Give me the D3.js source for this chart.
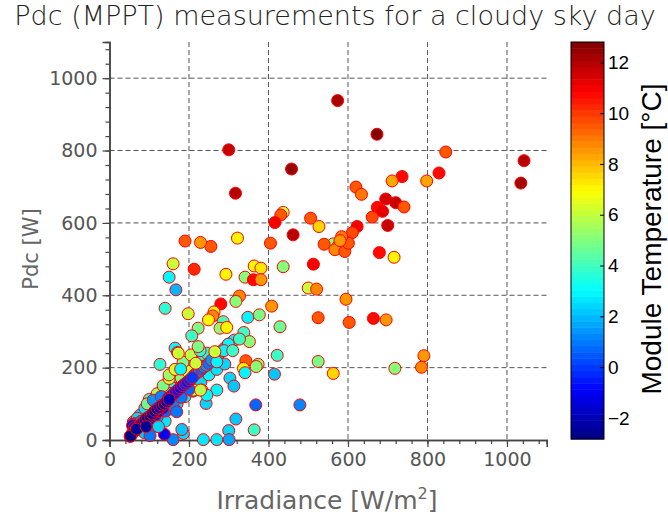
<!DOCTYPE html>
<html>
<head>
<meta charset="utf-8">
<script src="https://cdn.jsdelivr.net/npm/d3@7"></script>
<style>
  body { margin: 0; background: #fff; }
  svg { display: block; }
</style>
</head>
<body>
<div id="chart"></div>
<script>
// Irradiance [W/m2], Pdc [W] and module temperature [C], one entry per measurement
const irradiance = [
  // cyan cloud around the dense band
  256, 262, 268, 275, 282, 290, 298, 306, 314,
  77, 89, 102, 114, 127, 140, 152, 165, 177, 190, 200, 212, 222, 235, 245,
  96, 115, 135, 150, 170, 190, 210, 230, 250, 270, 290, 120, 140, 88,
  60, 70, 65,
  // greens on the upper edge
  100, 120, 135, 150, 180, 196, 211, 232, 95, 150, 165, 185, 205,
  // azure
  214, 220, 226, 232, 238, 244, 250, 60, 70, 80, 100, 120, 140, 160, 180, 200, 110, 130,
  // blue
  148, 154, 160, 166, 172, 178, 184, 190, 196, 202, 208, 58, 62, 110, 116, 122, 134,
  // navy core
  52, 56, 60, 64, 68, 72, 78, 84, 90, 96, 102, 108, 114, 120, 126, 132, 138, 144, 150,
  // scattered
  574, 673, 458, 846, 829, 798, 736, 711, 620, 634, 695, 720, 741, 674, 687, 661, 623, 700,
  506, 527, 437, 431, 416, 1043, 1035, 679, 716, 664, 696, 791, 785, 718, 317, 462, 611,
  588, 563, 540, 576, 567, 592, 601, 584, 580, 405, 322, 255, 229, 190, 213, 513, 437, 364,
  381, 293, 341, 362, 381, 500, 521, 595, 327, 318, 280, 408, 525, 603, 198, 263, 260, 249,
  348, 377, 286, 278, 295, 223, 207, 429, 338, 352, 327, 299, 288, 310, 228, 422, 525, 563,
  343, 374, 369, 337, 341, 415, 303, 313, 368, 479, 318, 364, 300, 243, 236, 270, 301, 160,
  186, 182, 138, 102, 123, 169, 53, 68, 92, 160, 150, 167, 140, 165, 171, 127, 270, 245,
  173, 179, 217, 229, 257, 270, 265, 223, 300
];

const pdc = [
  220, 226, 232, 238, 246, 254, 262, 268, 276,
  69, 88, 101, 116, 130, 147, 161, 175, 185, 194, 205, 215, 226, 236, 240,
  45, 55, 70, 85, 100, 120, 135, 160, 180, 195, 210, 38, 52, 20,
  50, 60, 45,
  112, 128, 150, 170, 172, 190, 138, 138, 100, 180, 195, 215, 235,
  180, 186, 190, 196, 202, 206, 212, 44, 40, 52, 48, 64, 80, 95, 118, 140, 110, 120,
  115, 120, 126, 132, 138, 144, 150, 155, 160, 166, 172, 40, 34, 60, 70, 78, 88,
  10, 16, 22, 26, 30, 34, 42, 48, 56, 62, 66, 72, 80, 86, 90, 96, 100, 106, 112,
  938, 845, 749, 796, 738, 716, 728, 716, 699, 679, 666, 656, 644, 643, 632, 616, 590, 593,
  613, 590, 629, 622, 601, 772, 710, 518, 505, 336, 332, 233, 201, 198, 682, 567, 573,
  553, 542, 541, 537, 526, 521, 544, 562, 551, 544, 558, 535, 546, 550, 472, 486, 479, 481,
  475, 458, 450, 443, 443, 420, 417, 389, 398, 383, 376, 370, 338, 325, 349, 354, 343, 332,
  339, 346, 327, 309, 311, 309, 288, 313, 297, 272, 279, 265, 247, 247, 247, 234, 217, 184,
  219, 209, 203, 198, 186, 182, 171, 149, 97, 97, 58, 28, 26, 101, 1, 1, 1, 1,
  18, 29, 16, 12, 37, 78, 11, 30, 37, 487, 450, 415, 364, 254, 242, 209, 138, 124,
  240, 196, 212, 138, 221, 216, 244, 258, 802
];

const moduleTemp = [
  2.6, 2.8, 3.0, 2.7, 2.9, 3.1, 2.6, 2.8, 3.0,
  2.4, 2.6, 2.8, 3.0, 2.5, 2.7, 3.1, 2.6, 2.9, 2.4, 2.8, 3.0, 2.6, 3.2, 3.6,
  2.2, 2.5, 2.3, 2.6, 2.4, 2.7, 2.5, 2.3, 2.8, 2.6, 2.4, 2.2, 2.6, 2.1,
  2.0, 2.4, 1.8,
  4.2, 5.5, 4.8, 6.0, 5.2, 6.2, 5.8, 6.6, 4.6, 5.4, 6.4, 4.9, 5.8,
  0.8, 1.0, 1.3, 0.6, 1.1, 1.4, 1.0, 0.4, 0.8, 1.2, 1.0, 1.4, 0.6, 1.2, 1.0, 0.8, 1.5, 1.2,
  -1.2, -0.9, -0.6, -1.0, -0.4, -0.8, -0.5, -0.2, -0.6, -0.3, 0.0, -1.4, -1.0, -1.2, -0.9, -1.5, -1.1,
  -2.7, -2.6, -2.5, -2.7, -2.4, -2.6, -2.3, -2.5, -2.2, -2.6, -2.4, -2.1, -2.5, -2.3, -2.0, -2.2, -2.4, -1.9, -2.0,
  12.3, 12.8, 12.4, 9.4, 10.8, 8.2, 10.8, 8.3, 9.6, 9.0, 11.5, 11.7, 9.6, 10.8, 11.3, 9.8, 10.9, 11.6,
  9.6, 7.6, 6.0, 9.5, 10.9, 12.0, 12.2, 10.8, 7.0, 10.8, 8.5, 8.6, 8.8, 5.2, 12.0, 12.0, 9.8,
  8.8, 5.0, 9.5, 7.0, 8.8, 9.6, 9.6, 9.0, 8.5, 9.5, 7.0, 9.6, 8.5, 9.6, 10.2, 10.9, 5.0, 7.0,
  7.3, 7.0, 5.0, 10.8, 8.5, 6.0, 8.7, 8.5, 8.7, 5.0, 10.8, 8.5, 9.6, 9.6, 6.0, 7.0, 8.8, 7.0,
  3.0, 4.8, 4.2, 5.0, 7.0, 4.8, 3.8, 4.5, 3.8, 5.0, 3.8, 3.0, 2.8, 3.8, 3.7, 4.0, 4.8, 7.5,
  9.6, 5.0, 5.0, 7.0, 3.0, 2.2, 2.5, 2.2, 0.6, 1.2, 2.2, 3.9, 2.4, 2.5, 2.6, 2.6, 1.8, 1.3,
  2.5, 2.1, -0.9, 1.0, 2.5, 1.0, -2.6, -2.5, -2.5, 6.0, 3.0, 2.0, 3.6, 3.0, 2.8, 3.7, 2.8, 2.8,
  6.0, 3.0, 6.0, 5.8, 1.5, 2.8, 6.0, 4.8, 11.8
];

const xTicks = [0, 200, 400, 600, 800, 1000];
const yTicks = [0, 200, 400, 600, 800, 1000];
const cbTicks = [-2, 0, 2, 4, 6, 8, 10, 12];

const width = 668, height = 520;
const plot = { left: 109.5, right: 546.7, top: 42, bottom: 440 };
const cbBox = { left: 571, right: 604, top: 42, bottom: 439 };
const tMin = -2.83, tMax = 12.8;

const svg = d3.select('#chart').append('svg')
  .attr('width', width)
  .attr('height', height);

const x = d3.scaleLinear().domain([0, 1100]).range([plot.left, plot.right]);
const y = d3.scaleLinear().domain([0, 1100]).range([plot.bottom, plot.top]);
const c = d3.scaleLinear().domain([tMin, tMax]).range([cbBox.bottom, cbBox.top]);

// MATLAB style jet, 64 levels
function jet(v) {
  const k = Math.max(0, Math.min(63, Math.floor((v - tMin) / (tMax - tMin) * 64)));
  const t = (k + 0.5) / 64;
  const ch = s => Math.round(255 * Math.max(0, Math.min(1, 1.5 - Math.abs(4 * t - s))));
  return `rgb(${ch(3)},${ch(2)},${ch(1)})`;
}

// Grid
const grid = svg.append('g')
  .attr('stroke', '#555')
  .attr('stroke-width', 1)
  .attr('stroke-dasharray', '5,3');
grid.selectAll('.gx')
  .data(xTicks.filter(d => d > 0))
  .join('line')
  .attr('x1', d => x(d)).attr('x2', d => x(d))
  .attr('y1', plot.top).attr('y2', plot.bottom);
grid.selectAll('.gy')
  .data(yTicks.filter(d => d > 0))
  .join('line')
  .attr('y1', d => y(d)).attr('y2', d => y(d))
  .attr('x1', plot.left).attr('x2', plot.right);

// Axes (left and bottom only)
const xAxis = d3.axisBottom(x).tickValues(xTicks).tickSize(7).tickPadding(6).tickFormat(d3.format('d'));
const yAxis = d3.axisLeft(y).tickValues(yTicks).tickSize(7).tickPadding(5).tickFormat(d3.format('d'));
const xMinor = d3.axisBottom(x).tickValues(d3.range(0, 1100, 40)).tickSize(4).tickFormat('');
const yMinor = d3.axisLeft(y).tickValues(d3.range(0, 1100, 40)).tickSize(4).tickFormat('');

function styleAxis(g) {
  g.select('.domain').attr('stroke', '#444').attr('stroke-width', 1.5);
  g.selectAll('.tick line').attr('stroke', '#444').attr('stroke-width', 1.2);
  g.selectAll('.tick text')
    .attr('fill', '#555')
    .style('font-family', '"DejaVu Sans", sans-serif')
    .style('font-size', '19px');
}

svg.append('g').attr('transform', `translate(0,${plot.bottom})`).call(xMinor).call(styleAxis);
svg.append('g').attr('transform', `translate(${plot.left},0)`).call(yMinor).call(styleAxis);
svg.append('g').attr('transform', `translate(0,${plot.bottom})`).call(xAxis).call(styleAxis);
svg.append('g').attr('transform', `translate(${plot.left},0)`).call(yAxis).call(styleAxis);

// Points
svg.append('g')
  .selectAll('circle')
  .data(d3.range(irradiance.length))
  .join('circle')
  .attr('cx', i => x(irradiance[i]))
  .attr('cy', i => y(pdc[i]))
  .attr('r', 6)
  .attr('fill', i => jet(moduleTemp[i]))
  .attr('stroke', '#ff0000')
  .attr('stroke-width', 1);

// Colorbar
const levels = d3.range(64).map(k => tMin + (k + 0.5) * (tMax - tMin) / 64);
const step = (tMax - tMin) / 64;
svg.append('g')
  .selectAll('rect')
  .data(levels)
  .join('rect')
  .attr('x', cbBox.left)
  .attr('width', cbBox.right - cbBox.left)
  .attr('y', d => c(d + step / 2))
  .attr('height', d => c(d - step / 2) - c(d + step / 2) + 0.5)
  .attr('fill', d => jet(d));
svg.append('rect')
  .attr('x', cbBox.left).attr('y', cbBox.top)
  .attr('width', cbBox.right - cbBox.left)
  .attr('height', cbBox.bottom - cbBox.top)
  .attr('fill', 'none')
  .attr('stroke', '#000')
  .attr('stroke-width', 1);

const cbAxis = d3.axisRight(c).tickValues(cbTicks).tickSizeInner(-4).tickSizeOuter(0).tickPadding(8)
  .tickFormat(d => d < 0 ? '\u2212' + Math.abs(d) : d);
svg.append('g')
  .attr('transform', `translate(${cbBox.right},0)`)
  .call(cbAxis)
  .call(g => {
    g.select('.domain').remove();
    g.selectAll('.tick line').attr('stroke', '#000');
    g.selectAll('.tick text')
      .attr('x', 4)
      .attr('fill', '#000')
      .style('font-family', '"Liberation Sans", Arial, sans-serif')
      .style('font-size', '19px');
  });

// Titles and labels
svg.append('text')
  .attr('x', 335).attr('y', 25)
  .attr('text-anchor', 'middle')
  .attr('fill', '#222')
  .style('font-family', '"DejaVu Sans", sans-serif')
  .style('font-weight', 200)
  .style('font-size', '27px')
  .text('Pdc (MPPT) measurements for a cloudy sky day');

const xLabel = svg.append('text')
  .attr('x', 327).attr('y', 509)
  .attr('text-anchor', 'middle')
  .attr('fill', '#666')
  .style('font-family', '"DejaVu Sans", sans-serif')
  .style('font-size', '25px');
xLabel.append('tspan').text('Irradiance [W/m');
xLabel.append('tspan').attr('dy', -10).style('font-size', '16px').text('2');
xLabel.append('tspan').attr('dy', 10).text(']');

svg.append('text')
  .attr('transform', 'translate(38,249) rotate(-90)')
  .attr('text-anchor', 'middle')
  .attr('fill', '#666')
  .style('font-family', '"DejaVu Sans", sans-serif')
  .style('font-size', '21px')
  .text('Pdc [W]');

svg.append('text')
  .attr('transform', 'translate(661,239) rotate(-90)')
  .attr('text-anchor', 'middle')
  .attr('fill', '#000')
  .style('font-family', '"Liberation Sans", Arial, sans-serif')
  .style('font-size', '28px')
  .text('Module Temperature [\u00B0C]');
</script>
</body>
</html>
